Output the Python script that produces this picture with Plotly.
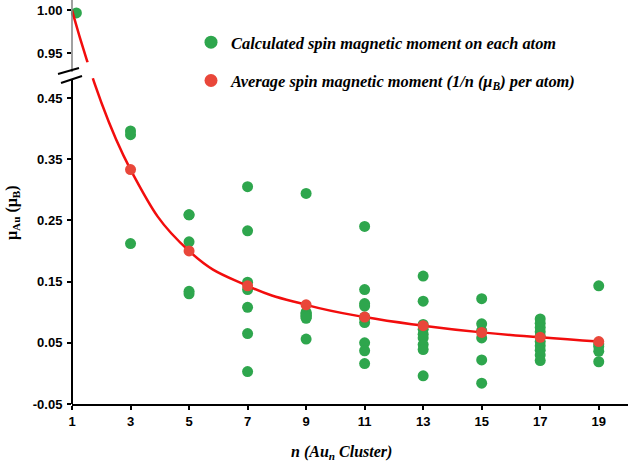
import plotly.graph_objects as go

# ---------------- data ----------------
cluster_sizes = [1, 3, 5, 7, 9, 11, 13, 15, 17, 19]
# x position of the plotted Au1 point (drawn slightly right of the axis)
au1_x = 1.15
atom_moments = [
    [0.997],
    [0.396, 0.390, 0.212],
    [0.259, 0.259, 0.215, 0.134, 0.130],
    [0.305, 0.233, 0.149, 0.137, 0.108, 0.065, 0.003],
    [0.294, 0.100, 0.098, 0.097, 0.095, 0.093, 0.092, 0.090, 0.056],
    [0.240, 0.137, 0.114, 0.110, 0.092, 0.090, 0.083, 0.050, 0.037, 0.016],
    [0.159, 0.118, 0.080, 0.072, 0.064, 0.058, 0.047, 0.039, -0.004],
    [0.122, 0.081, 0.070, 0.058, 0.022, -0.016],
    [0.089, 0.082, 0.075, 0.068, 0.061, 0.052, 0.045, 0.038, 0.030, 0.021],
    [0.143, 0.048, 0.044, 0.036, 0.019],
]
avg_n = [3, 5, 7, 9, 11, 13, 15, 17, 19]
avg_moment = [0.333, 0.200, 0.143, 0.112, 0.092, 0.078, 0.067, 0.059, 0.052]
curve_n = [1] + avg_n
curve_moment = [1.000] + avg_moment

y_ticks = [-0.05, 0.05, 0.15, 0.25, 0.35, 0.45, 0.95, 1.00]
x_ticks = [1, 3, 5, 7, 9, 11, 13, 15, 17, 19]

# ---------------- broken-axis transform ----------------
BREAK_LO, BREAK_HI = 0.48, 0.93
UP_BASE, UP_SCALE = 0.523, 1.4


def disp(v):
    if v <= BREAK_LO:
        return v
    return UP_BASE + (v - 0.95) * UP_SCALE


Y_RANGE = [-0.05, 0.61]
X_RANGE = [1, 20]
W, H = 630, 464
ML, MR, MT, MB = 72, 2, 0, 60
PW, PH = W - ML - MR, H - MT - MB


def px_to_paper_x(px):
    return (px - ML) / PW


def py_to_paper_y(py):
    return (H - MB - py) / PH


def px_to_x(px):
    return X_RANGE[0] + (px - ML) / PW * (X_RANGE[1] - X_RANGE[0])


def py_to_y(py):
    return Y_RANGE[0] + (H - MB - py) / PH * (Y_RANGE[1] - Y_RANGE[0])


GREEN = "#2ea64d"
RED_DOT = "#e9473a"
RED_LINE = "#f20d0d"

gx, gy = [], []
for n, vals in zip(cluster_sizes, atom_moments):
    for v in vals:
        gx.append(au1_x if n == 1 else n)
        gy.append(disp(v))

fig = go.Figure()
fig.add_trace(go.Scatter(
    x=gx, y=gy, mode="markers", showlegend=False, cliponaxis=False,
    marker=dict(color=GREEN, size=11), hoverinfo="skip"))
fig.add_trace(go.Scatter(
    x=curve_n, y=[disp(v) for v in curve_moment], mode="lines",
    line=dict(color=RED_LINE, width=2.5, shape="spline", smoothing=1.3),
    showlegend=False, cliponaxis=False, hoverinfo="skip"))
fig.add_trace(go.Scatter(
    x=avg_n, y=[disp(v) for v in avg_moment], mode="markers",
    marker=dict(color=RED_DOT, size=11), showlegend=False, cliponaxis=False))

# legend entries
fig.add_trace(go.Scatter(
    x=[None], y=[None], mode="markers", marker=dict(color=GREEN, size=13),
    name="Calculated spin magnetic moment on each atom", legendgroup="a"))
fig.add_trace(go.Scatter(
    x=[None], y=[None], mode="markers", marker=dict(color=RED_DOT, size=13),
    name="Average spin magnetic moment (1/n (μ<sub>B</sub>) per atom)",
    legendgroup="b"))

shapes = []
# y axis line, upper (grey) and lower (black) segments
shapes.append(dict(type="line", xref="paper", yref="paper",
                   x0=0, x1=0, y0=py_to_paper_y(72), y1=1,
                   line=dict(color="#808080", width=1.5)))
shapes.append(dict(type="line", xref="paper", yref="paper",
                   x0=0, x1=0, y0=0, y1=py_to_paper_y(79),
                   line=dict(color="black", width=2)))
# break slashes
for (x0, y0, x1, y1) in [(58, 74, 79, 68), (61, 83, 82, 76)]:
    shapes.append(dict(type="line", xref="paper", yref="paper",
                       x0=px_to_paper_x(x0), y0=py_to_paper_y(y0),
                       x1=px_to_paper_x(x1), y1=py_to_paper_y(y1),
                       line=dict(color="black", width=2)))
# white mask over the curve at the break
pts = [(80, 64), (110, 57), (117, 71), (87, 80)]
path = "M " + " L ".join(f"{px_to_x(a):.4f},{py_to_y(b):.4f}" for a, b in pts) + " Z"
shapes.append(dict(type="path", xref="x", yref="y", path=path,
                   fillcolor="white", line=dict(color="white", width=0)))

serif = "Liberation Serif"
sans = "Liberation Sans"

fig.update_layout(
    width=W, height=H,
    margin=dict(l=ML, r=MR, t=MT, b=MB, autoexpand=False),
    paper_bgcolor="white", plot_bgcolor="white",
    shapes=shapes,
    legend=dict(
        x=px_to_paper_x(191), y=py_to_paper_y(25), xanchor="left", yanchor="top",
        bgcolor="rgba(0,0,0,0)", tracegroupgap=14, traceorder="grouped",
        font=dict(family=serif, size=16.4, color="black", weight="bold", style="italic")),
    xaxis=dict(
        range=X_RANGE, tickvals=x_ticks, ticktext=[str(t) for t in x_ticks],
        showline=True, linecolor="black", linewidth=2, ticks="outside",
        ticklen=4, tickwidth=1.5, tickcolor="black", showgrid=False, zeroline=False,
        automargin=False,
        tickfont=dict(family=sans, size=13, color="black", weight="bold")),
    yaxis=dict(
        range=Y_RANGE, tickvals=[disp(v) for v in y_ticks],
        ticktext=[f"{v:.2f}" for v in y_ticks],
        showline=False, ticks="outside", ticklen=4, tickwidth=1.5, tickcolor="black",
        showgrid=False, zeroline=False, ticklabelstandoff=2, automargin=False,
        tickfont=dict(family=sans, size=13, color="black", weight="bold")),
    annotations=[
        dict(text="μ<sub>Au</sub> (μ<sub>B</sub>)", xref="paper", yref="paper",
             x=px_to_paper_x(12), y=py_to_paper_y(213), textangle=-90,
             showarrow=False, xanchor="center", yanchor="middle",
             font=dict(family=serif, size=16, color="black", weight="bold")),
        dict(text="n (Au<sub>n</sub> Cluster)", xref="paper", yref="paper",
             x=px_to_paper_x(341), y=py_to_paper_y(452),
             showarrow=False, xanchor="center", yanchor="middle",
             font=dict(family=serif, size=16, color="black", weight="bold", style="italic")),
    ],
)

fig.write_html("out.html", post_script="document.body.style.margin='0';",
               config={"displayModeBar": False})
